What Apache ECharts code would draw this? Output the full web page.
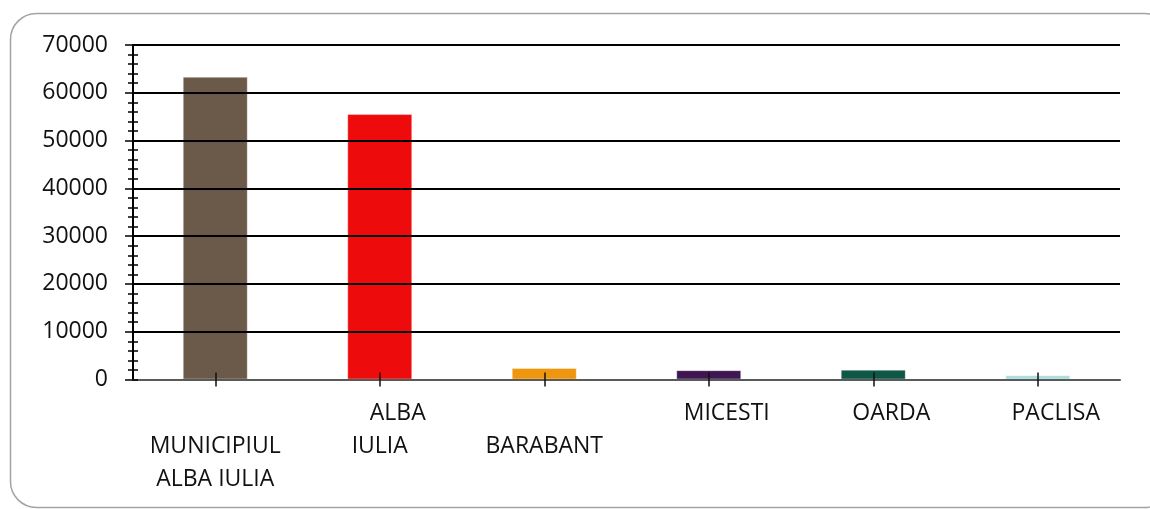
<!DOCTYPE html>
<html><head><meta charset="utf-8">
<script src="https://cdn.jsdelivr.net/npm/echarts@6/dist/echarts.min.js"></script>
<style>html,body{margin:0;padding:0;background:#fff}#c{width:1150px;height:509px}</style>
</head><body><div id="c"></div>
<script>
const categories = ['MUNICIPIUL ALBA IULIA', 'ALBA IULIA', 'BARABANT', 'MICESTI', 'OARDA', 'PACLISA'];
const values = [63350, 55550, 2400, 1950, 2050, 880];
const barColors = ['#6B5A4A', '#EE0B0B', '#EE960E', '#3E1752', '#0F5746', '#A9DCDB'];
const yTicks = { min: 0, max: 70000, interval: 10000 };

const font = '"Open Sans", "Liberation Sans", sans-serif';
const labelText = [
  '{e| }\n{t|MUNICIPIUL}\n{t|ALBA IULIA}',
  '{s|ALBA}\n{t|IULIA}',
  '{e| }\n{t|BARABANT}',
  '{s|MICESTI}',
  '{s|OARDA}',
  '{s|PACLISA}'
];
const rich = {
  t: { fontSize: 23, lineHeight: 33, color: '#111', fontFamily: font },
  s: { fontSize: 23, lineHeight: 33, color: '#111', fontFamily: font, padding: [0, 0, 0, 36] },
  e: { fontSize: 23, lineHeight: 33 }
};

const ghost = (xi, yi) => ({
  type: 'line', xAxisIndex: xi, yAxisIndex: yi, data: values, silent: true,
  showSymbol: false, symbol: 'none', lineStyle: { opacity: 0 }, tooltip: { show: false }
});
const hiddenLine = { show: true, onZero: false, lineStyle: { color: 'rgba(0,0,0,0)', width: 0 } };

const chart = echarts.init(document.getElementById('c'), null, { renderer: 'canvas' });
chart.setOption({
  animation: false,
  backgroundColor: '#fff',
  graphic: [{
    type: 'rect', left: 8, top: 11, silent: true,
    shape: { width: 1160, height: 494, r: 26 },
    style: { fill: 'none', stroke: '#a3a3a3', lineWidth: 1.5 }
  }],
  grid: { left: 133, right: 30, top: 45, bottom: 129.5 },
  xAxis: [{
    type: 'category', data: categories, position: 'bottom', z: 5,
    axisLine: { onZero: false, lineStyle: { color: '#5a5a5a', width: 2 } },
    axisTick: { interval: 0, alignWithLabel: false, length: 9, lineStyle: { color: '#111', width: 1.5 } },
    axisLabel: {
      margin: 17, interval: 0,
      formatter: (v, i) => labelText[i],
      rich: rich
    }
  }, {
    type: 'category', data: categories, position: 'bottom', z: 6,
    axisLine: hiddenLine,
    axisTick: { show: true, interval: 0, alignWithLabel: true, length: 7, lineStyle: { color: '#111', width: 1.5 } },
    axisLabel: { show: false, interval: 0 }
  }, {
    type: 'category', data: categories, position: 'bottom', z: 6,
    axisLine: hiddenLine,
    axisTick: { show: true, interval: 0, alignWithLabel: true, inside: true, length: 7, lineStyle: { color: '#111', width: 1.5 } },
    axisLabel: { show: false, interval: 0 }
  }],
  yAxis: [{
    type: 'value', min: yTicks.min, max: yTicks.max, interval: yTicks.interval, z: 5,
    axisLine: { show: true, lineStyle: { color: '#000', width: 2 } },
    axisTick: { show: true, length: 8, lineStyle: { color: '#000', width: 1.5 } },
    minorTick: { show: true, splitNumber: 5, length: 5, lineStyle: { color: '#000', width: 1.5 } },
    splitLine: { show: true, lineStyle: { color: '#000', width: 2 } },
    axisLabel: { margin: 25, fontSize: 23, color: '#111', fontFamily: font, formatter: v => String(v) }
  }, {
    type: 'value', min: yTicks.min, max: yTicks.max, interval: yTicks.interval, position: 'left', offset: 0, z: 5,
    axisLine: hiddenLine,
    axisTick: { show: true, inside: true, length: 5, lineStyle: { color: '#000', width: 1.5 } },
    minorTick: { show: true, splitNumber: 5, length: 5, lineStyle: { color: '#000', width: 1.5 } },
    splitLine: { show: false },
    axisLabel: { show: false }
  }],
  series: [{
    type: 'bar', xAxisIndex: 0, yAxisIndex: 0,
    data: values.map((v, i) => ({ value: v, itemStyle: { color: barColors[i] } })),
    barWidth: 65,
    itemStyle: { borderColor: 'rgba(255,255,255,0.35)', borderWidth: 1 },
    z: 2
  }, ghost(1, 1), ghost(2, 1)]
});
</script></body></html>
